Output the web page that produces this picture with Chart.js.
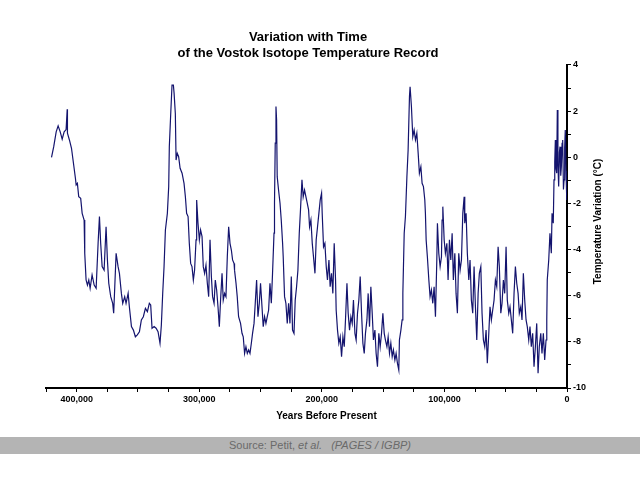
<!DOCTYPE html>
<html>
<head>
<meta charset="utf-8">
<title>Vostok Isotope Temperature Record</title>
<script src="https://cdn.jsdelivr.net/npm/chart.js@4.4.1/dist/chart.umd.min.js"></script>
<style>
  html, body { margin: 0; padding: 0; background: #ffffff; }
  #wrap { position: relative; width: 640px; height: 480px; }
  #source {
    position: absolute; left: 0; top: 437px; width: 640px; height: 17px;
    background: #b4b4b4; color: #6a6a6a;
    font: 11px "Liberation Sans", Arial, sans-serif; line-height: 17px;
    text-align: center;
  }
</style>
</head>
<body>
<div id="wrap">
  <canvas id="vostok"></canvas>
  <div id="source">Source: Petit, <i>et al.</i> &nbsp; <i>(PAGES / IGBP)</i></div>
</div>
<script>
// thousands of years before present
const yearsKa = [
  420.5, 418.7, 416.7, 415.1, 413.4, 411.8, 410.2, 408.6, 407.7, 407.5,
  405.9, 404.2, 402.6, 401.0, 400.4, 399.4, 398.3, 396.7, 395.5, 393.9,
  393.4, 392.3, 391.2, 390.1, 389.0, 387.4, 385.7, 384.1, 382.5, 381.4,
  380.4, 379.2, 377.6, 376.0, 374.9, 373.8, 372.2, 370.6, 369.8, 368.9,
  367.8, 366.2, 365.1, 363.5, 362.4, 360.8, 359.7, 358.0, 357.0, 355.3,
  353.7, 352.1, 350.5, 348.8, 347.2, 345.6, 343.9, 342.3, 340.7, 339.6,
  338.5, 336.8, 335.2, 333.6, 332.0, 330.9, 329.8, 328.7, 327.6, 326.0,
  324.9, 324.4, 323.3, 322.2, 321.1, 320.5, 319.5, 318.9, 317.9, 316.8,
  315.6, 314.0, 312.4, 311.3, 310.3, 309.1, 308.1, 307.0, 305.9, 304.8,
  303.8, 302.6, 302.1, 301.0, 299.9, 298.9, 297.7, 296.7, 295.6, 294.5,
  293.4, 292.3, 291.2, 290.1, 289.1, 287.9, 286.9, 285.8, 284.7, 283.6,
  282.6, 281.4, 280.4, 279.3, 278.2, 277.1, 276.0, 274.9, 273.8, 272.8,
  271.6, 271.2, 270.0, 269.0, 267.9, 266.3, 265.1, 264.1, 263.0, 261.9,
  260.8, 259.7, 258.6, 257.5, 256.5, 255.3, 254.3, 253.2, 252.1, 251.0,
  250.0, 248.8, 247.8, 246.7, 245.6, 244.5, 243.4, 242.3, 241.2, 240.2,
  239.0, 238.6, 238.0, 237.4, 236.9, 236.4, 235.3, 234.1, 233.1, 232.0,
  231.5, 230.4, 229.3, 228.2, 227.1, 226.0, 224.9, 223.9, 222.7, 221.7,
  220.6, 219.5, 218.4, 217.4, 216.2, 215.2, 214.1, 213.0, 211.9, 210.8,
  210.0, 208.9, 207.8, 206.8, 205.6, 204.6, 203.5, 202.4, 201.3, 200.2,
  199.7, 198.6, 197.5, 196.4, 195.4, 194.2, 193.2, 192.1, 191.0, 189.9,
  188.8, 188.3, 187.2, 186.1, 185.0, 183.9, 182.8, 181.7, 180.7, 179.5,
  178.5, 177.4, 176.3, 175.2, 174.2, 173.0, 172.0, 170.9, 169.8, 168.7,
  167.6, 166.5, 165.4, 164.4, 163.2, 162.2, 161.1, 160.0, 158.9, 157.9,
  156.7, 155.7, 154.6, 153.5, 152.4, 151.3, 150.2, 149.1, 148.1, 146.9,
  145.9, 144.8, 143.7, 142.6, 141.6, 140.4, 139.4, 138.3, 137.2, 136.7,
  135.5, 134.5, 133.9, 132.8, 131.8, 130.6, 129.6, 128.5, 128.0, 126.9,
  125.8, 124.7, 123.6, 122.5, 121.4, 120.4, 119.2, 118.2, 117.1, 116.0,
  115.5, 114.9, 113.9, 112.7, 111.7, 110.6, 109.5, 108.4, 107.3, 106.2,
  105.7, 104.6, 103.5, 102.4, 101.9, 101.3, 100.2, 99.2, 98.0, 97.0,
  95.9, 94.8, 93.7, 92.7, 91.5, 90.5, 89.4, 88.3, 87.2, 86.1,
  85.0, 83.9, 83.4, 82.3, 81.3, 80.1, 79.1, 78.0, 76.9, 75.8,
  74.7, 73.6, 72.5, 71.5, 70.3, 69.3, 68.2, 67.1, 66.0, 65.0,
  63.8, 62.8, 61.7, 60.6, 59.5, 58.4, 57.3, 56.2, 55.2, 54.0,
  53.0, 51.9, 50.8, 49.7, 48.7, 47.5, 46.5, 45.4, 44.3, 43.2,
  42.1, 41.0, 39.9, 38.9, 37.7, 36.7, 35.6, 34.5, 33.4, 32.4,
  31.2, 30.2, 29.1, 28.0, 26.9, 25.8, 24.7, 23.6, 22.6, 21.4,
  20.4, 19.3, 18.2, 17.1, 16.5, 16.1, 14.9, 13.9, 12.8, 12.2,
  11.2, 10.6, 10.0, 9.5, 9.0, 8.4, 7.9, 7.4, 6.8, 6.2,
  5.7, 5.1, 4.6, 4.0, 3.5, 2.9, 2.4, 1.9, 1.4, 0.8,
  0.2
];

// temperature variation, degrees C
const tempC = [
  0.00, 0.46, 1.10, 1.36, 1.10, 0.78, 1.10, 1.20, 2.08, 1.04,
  0.75, 0.39, -0.26, -0.91, -1.20, -1.13, -1.71, -1.78, -2.43, -2.72,
  -4.16, -5.32, -5.54, -5.32, -5.68, -5.10, -5.54, -5.68, -3.73, -2.57,
  -3.73, -4.74, -4.89, -3.01, -4.45, -5.46, -6.04, -6.33, -6.76, -5.61,
  -4.16, -4.74, -5.03, -5.90, -6.33, -6.04, -6.33, -5.90, -6.48, -7.34,
  -7.49, -7.78, -7.70, -7.56, -7.05, -6.91, -6.55, -6.69, -6.33, -6.40,
  -7.41, -7.34, -7.41, -7.56, -8.06, -7.27, -5.90, -4.74, -3.15, -2.43,
  -1.27, 0.46, 1.83, 3.13, 3.13, 2.77, 1.90, -0.12, 0.17, 0.03,
  -0.48, -0.69, -1.13, -1.71, -2.43, -2.57, -3.73, -4.60, -4.74, -5.32,
  -4.89, -3.58, -1.85, -2.86, -3.58, -3.15, -3.44, -4.74, -5.03, -4.67,
  -5.46, -6.04, -3.58, -5.17, -6.04, -6.33, -5.32, -5.75, -6.48, -7.34,
  -6.19, -5.03, -6.19, -5.90, -6.04, -4.31, -3.01, -3.73, -4.02, -4.45,
  -4.60, -4.89, -5.46, -6.04, -6.91, -7.20, -7.63, -7.78, -8.50, -8.21,
  -8.50, -8.35, -8.50, -8.06, -7.63, -7.20, -6.33, -5.32, -6.91, -6.33,
  -5.46, -6.48, -7.34, -6.91, -7.20, -6.91, -6.62, -5.46, -6.33, -5.03,
  -3.29, -1.99, 0.61, 2.20, 1.62, -0.84, -1.42, -1.99, -2.72, -3.73,
  -4.31, -6.04, -6.33, -7.20, -6.33, -7.20, -5.17, -7.49, -7.63, -6.19,
  -5.61, -4.89, -3.29, -2.28, -0.98, -1.71, -1.42, -1.71, -1.99, -2.28,
  -3.01, -2.72, -3.73, -4.31, -5.03, -3.58, -3.01, -2.43, -1.85, -1.56,
  -2.43, -3.88, -3.73, -4.74, -5.32, -4.45, -5.61, -5.03, -5.90, -3.73,
  -5.32, -6.62, -7.49, -8.06, -7.78, -8.64, -7.78, -8.21, -7.05, -5.46,
  -6.76, -7.49, -6.91, -7.20, -6.19, -7.63, -7.92, -6.76, -6.19, -5.17,
  -6.76, -8.06, -8.50, -7.63, -7.05, -5.90, -7.34, -5.61, -6.76, -7.92,
  -7.49, -8.50, -9.08, -7.63, -8.21, -7.63, -6.76, -7.63, -7.92, -8.21,
  -7.78, -8.50, -8.06, -8.64, -8.35, -8.79, -8.50, -8.93, -9.22, -7.92,
  -7.49, -7.05, -5.90, -3.29, -2.57, -0.84, 0.32, 2.63, 3.06, 2.19,
  0.89, 1.18, 0.75, 1.04, 0.17, -0.69, -0.41, -1.13, -1.27, -1.85,
  -2.43, -3.58, -4.31, -5.32, -6.04, -5.75, -6.33, -5.61, -6.91, -4.45,
  -2.86, -4.16, -4.74, -4.31, -2.72, -2.14, -3.58, -4.16, -3.73, -5.32,
  -3.58, -4.45, -3.29, -5.32, -4.16, -5.90, -6.76, -4.16, -4.89, -4.45,
  -2.43, -1.71, -2.86, -2.43, -4.16, -5.32, -4.45, -6.19, -6.76, -4.74,
  -6.48, -7.92, -5.90, -5.03, -4.74, -6.76, -7.92, -8.21, -7.49, -8.93,
  -7.63, -6.48, -7.05, -6.62, -6.19, -5.32, -5.61, -3.88, -4.74, -6.76,
  -6.33, -5.32, -5.90, -3.88, -6.19, -6.76, -6.48, -7.05, -7.63, -5.90,
  -4.74, -5.46, -5.90, -6.76, -6.48, -7.05, -5.03, -6.19, -7.05, -7.34,
  -7.92, -7.34, -8.21, -7.63, -9.08, -8.21, -7.20, -9.36, -8.21, -7.63,
  -8.50, -7.63, -8.79, -7.92, -7.05, -5.32, -4.45, -3.29, -4.16, -2.43,
  -2.86, -0.98, -0.20, 0.75, -0.50, -0.69, 2.05, -0.30, -1.27, 0.20,
  0.46, -0.80, -0.41, 0.60, 0.75, -1.40, -0.98, 0.40, 1.18, -0.60,
  -1.85
];

const xTicksStep = 25;   // ka between tick marks
const xLabelEvery = 100; // ka between labelled ticks
const xAxisTitle = 'Years Before Present';
const yAxisTitle = 'Temperature Variation (°C)';

const points = yearsKa.map((ka, i) => ({ x: ka, y: tempC[i] }));

// axis titles drawn by hand: the y one reads bottom-to-top on the right,
// the x one sits a little right of the plot centre as in the original
const axisTitles = {
  id: 'axisTitles',
  afterDraw(chart) {
    const ctx = chart.ctx;
    const area = chart.chartArea;
    const y = chart.scales.y;
    ctx.save();
    ctx.fillStyle = '#000000';
    ctx.font = 'bold 10px "Liberation Sans", Arial, sans-serif';
    ctx.textAlign = 'center';
    ctx.textBaseline = 'middle';
    ctx.fillText(xAxisTitle, (area.left + area.right) / 2 + 20, area.bottom + 28);
    ctx.translate(y.left + 31, (area.top + area.bottom) / 2 - 5);
    ctx.rotate(-Math.PI / 2);
    ctx.fillText(yAxisTitle, 0, 0);
    ctx.restore();
  }
};

const tickFont = { family: '"Liberation Sans", Arial, sans-serif', size: 9, weight: 'bold' };

new Chart(document.getElementById('vostok'), {
  type: 'line',
  data: {
    datasets: [{
      data: points,
      borderColor: '#14146e',
      borderWidth: 1.2,
      pointRadius: 0,
      tension: 0,
      fill: false
    }]
  },
  plugins: [axisTitles],
  options: {
    responsive: true,
    maintainAspectRatio: false,
    animation: false,
    events: [],
    layout: { padding: { left: 0, right: 24, top: 0, bottom: 59 } },
    plugins: {
      legend: { display: false },
      tooltip: { enabled: false },
      title: {
        display: true,
        text: ['Variation with Time', 'of the Vostok Isotope Temperature Record'],
        color: '#000000',
        font: { family: '"Liberation Sans", Arial, sans-serif', size: 13, weight: 'bold', lineHeight: 1.23 },
        padding: { top: 29, bottom: 4 }
      }
    },
    scales: {
      x: {
        type: 'linear',
        reverse: true,
        min: 0,
        max: 425,
        afterFit: (s) => { s.height = 33; },
        border: { display: true, color: '#000000', width: 2 },
        grid: { drawOnChartArea: false, drawTicks: true, tickLength: 4, color: '#000000' },
        ticks: {
          stepSize: xTicksStep,
          autoSkip: false,
          maxRotation: 0,
          padding: 2,
          color: '#000000',
          font: tickFont,
          callback: (v) => (v % xLabelEvery === 0 ? (v * 1000).toLocaleString('en-US') : '')
        }
      },
      yPad: {
        type: 'linear',
        position: 'left',
        display: true,
        afterFit: (s) => { s.width = 46; },
        border: { display: false },
        grid: { display: false },
        ticks: { display: false }
      },
      y: {
        type: 'linear',
        position: 'right',
        min: -10,
        max: 4,
        afterFit: (s) => { s.width = 49; },
        border: { display: true, color: '#000000', width: 2 },
        grid: { drawOnChartArea: false, drawTicks: true, tickLength: 4, color: '#000000' },
        ticks: {
          stepSize: 1,
          autoSkip: false,
          padding: 2,
          color: '#000000',
          font: tickFont,
          callback: (v) => (v % 2 === 0 ? String(v) : '')
        }
      }
    }
  }
});
</script>
</body>
</html>
